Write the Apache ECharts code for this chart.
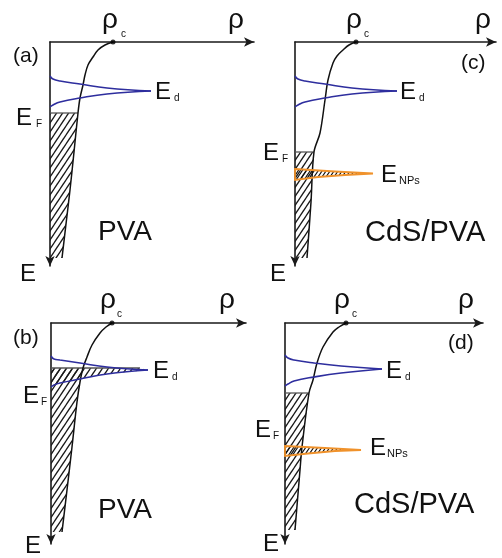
<!DOCTYPE html>
<html><head><meta charset="utf-8">
<script src="https://cdn.jsdelivr.net/npm/echarts@6/dist/echarts.min.js"></script>
<style>html,body{margin:0;padding:0;background:#fff}#c{width:502px;height:558px}</style>
</head><body><div id="c"></div>
<script>
// ---- data (offsets from each panel's axis origin: rho to the right, E downward) ----
// Panel (a) PVA
const aRhoC = 63;
const aCurve = [[63,0],[55,3],[48,8],[43,15],[38,23],[35,33],[33,43],[30,56],[28,71],[24,110],[20,148],[16,182],[12,216]];
const aEdUpper = [[0,34],[3,37],[10,39],[30,42],[57,46],[101,49]];
const aEdLower = [[101,49],[57,52],[30,56],[10,60],[3,63],[0,65]];
const aEF = 71;
// Panel (c) CdS/PVA
const cRhoC = 61;
const cCurve = [[61,0],[54,3],[48,8],[42,14],[38,21],[33,38],[30,58],[25,91],[19,110],[16,160],[12,216]];
const cEdUpper = [[0,34],[3,37],[10,39],[30,42],[57,46],[102,49]];
const cEdLower = [[102,49],[57,52],[30,56],[10,60],[3,63],[0,65]];
const cEF = 110;
const cNpsUpper = [[0,127],[40,129.5],[78,131.5]];
const cNpsLower = [[78,131.5],[50,133],[23,135],[0,138]];
// Panel (b) PVA
const bRhoC = 61;
const bCurve = [[61,0],[55,4],[49,10],[41,22],[36,34],[32,45],[29,59],[26,79],[21,124],[16,167],[11,209]];
const bEdUpper = [[0,33],[3,36],[9,37],[29,40],[56,44],[97,47]];
const bEdLower = [[97,47],[56,51],[29,56],[9,60],[3,62],[0,64]];
const bEF = 45;
const bEFEnd = 89;
// Panel (d) CdS/PVA
const dRhoC = 61;
const dCurve = [[61,0],[54,4],[48,9],[38,24],[32,40],[28,57],[24,70],[17,124],[15,147],[10,207]];
const dEdUpper = [[0,32],[3,35],[9,37],[29,40],[56,43],[97,46]];
const dEdLower = [[97,46],[56,50],[29,54],[9,58],[3,61],[0,63]];
const dEF = 70;
const dNpsUpper = [[0,123],[40,125],[76,127]];
const dNpsLower = [[76,127],[50,128],[23,130.5],[0,133]];

// text labels: [text, left x, centre y, font size]
const labels = [
 ['ρ',102,20,28],['c',121,34,10],['ρ',228,20,28],['(a)',13,56,21],['E',155,92,24],['d',174,98,10],['E',16,118,24],['F',36,124,10],['E',20,274,24],['PVA',98,232,28],
 ['ρ',346,20,28],['c',364,34,10],['ρ',475,20,28],['(c)',461,63,21],['E',400,92,24],['d',419,98,10],['E',263,153,24],['F',282,159,10],['E',381,175,24],['NPs',399,181,11],['E',270,274,24],['CdS/PVA',365,233,29],
 ['ρ',100,300,28],['c',117,314,10],['ρ',219,300,28],['(b)',13,338,21],['E',153,371,24],['d',172,377,10],['E',23,396,24],['F',41,402,10],['E',25,546,24],['PVA',98,510,28],
 ['ρ',334,300,28],['c',352,314,10],['ρ',458,300,28],['(d)',448,343,21],['E',386,371,24],['d',405,377,10],['E',255,430,24],['F',273,436,10],['E',370,448,24],['NPs',387,454,11],['E',263,544,24],['CdS/PVA',354,505,29]
];

const panels = [
  {curve:aCurve, rhoC:aRhoC, edU:aEdUpper, edL:aEdLower, ef:aEF},
  {curve:cCurve, rhoC:cRhoC, edU:cEdUpper, edL:cEdLower, ef:cEF, npsU:cNpsUpper, npsL:cNpsLower},
  {curve:bCurve, rhoC:bRhoC, edU:bEdUpper, edL:bEdLower, ef:bEF, efEnd:bEFEnd, fillBand:true},
  {curve:dCurve, rhoC:dRhoC, edU:dEdUpper, edL:dEdLower, ef:dEF, npsU:dNpsUpper, npsL:dNpsLower}
];

// ---- layout ----
const grids = [
  {left:50, top:42, width:204, height:224},
  {left:295, top:42, width:201, height:224},
  {left:51, top:323, width:195, height:221},
  {left:285, top:323, width:198, height:221}
];

function makeHatch(w, h, lw, color){
  const c = document.createElement('canvas'); c.width = w; c.height = h;
  const g = c.getContext('2d'); g.strokeStyle = color; g.lineWidth = lw; g.lineCap='square';
  g.beginPath();
  g.moveTo(0,h); g.lineTo(w,0);
  g.moveTo(-w,h); g.lineTo(0,0);
  g.moveTo(w,h); g.lineTo(2*w,0);
  g.moveTo(-w/2,h*1.5); g.lineTo(w*0.5,h*0.5);
  g.stroke();
  return c;
}
const hatch = {image: makeHatch(6, 9, 1.3, '#1a1a1a'), repeat:'repeat'};
const hatchDense = {image: makeHatch(4, 6, 1.2, '#111'), repeat:'repeat'};

function axisLine(sym){ return {show:true, onZero:false, symbol:sym, symbolSize:[7,10], lineStyle:{color:'#1a1a1a', width:1.6}}; }
const xAxes = grids.map((g,i)=>({gridIndex:i, type:'value', position:'top', min:0, max:g.width,
  axisLine:axisLine(['none','arrow']), axisTick:{show:false}, axisLabel:{show:false}, splitLine:{show:false}}));
const yAxes = grids.map((g,i)=>({gridIndex:i, type:'value', position:'left', inverse:true, min:0, max:g.height,
  axisLine:axisLine(['arrow','none']), axisTick:{show:false}, axisLabel:{show:false}, splitLine:{show:false}}));

function polygon(i, pts, style, z){
  return {type:'custom', xAxisIndex:i, yAxisIndex:i, data:pts, z:z, silent:true, clip:false,
    renderItem:function(params, api){
      if (params.dataIndex !== 0) return null;
      return {type:'polygon', shape:{points: pts.map(p=>api.coord(p))}, style: style};
    }};
}
function line(i, pts, color, width, smooth, z){
  return {type:'line', xAxisIndex:i, yAxisIndex:i, data:pts, smooth:smooth, symbol:'none', clip:false,
    lineStyle:{color:color, width:width}, z:z, silent:true};
}

const series = [];
panels.forEach((p,i)=>{
  const efPoint = p.curve.find(q=>q[1]===p.ef);
  const below = p.curve.filter(q=>q[1]>=p.ef);
  const bottom = p.curve[p.curve.length-1][1];
  series.push(polygon(i, [[0,p.ef]].concat(below).concat([[0,bottom]]), {fill:hatch}, 1));
  if (p.fillBand) {
    series.push(polygon(i, [[0,p.ef],[p.efEnd,p.ef]].concat(p.edL), {fill:hatch}, 1));
  }
  series.push(line(i, [[0,p.ef],[p.efEnd!==undefined ? p.efEnd : efPoint[0], p.ef]], '#555', 1.3, false, 2));
  series.push(line(i, p.curve, '#111', 1.5, 0.35, 3));
  series.push(line(i, p.edU, '#2e2e9e', 1.6, 0.45, 3));
  series.push(line(i, p.edL, '#2e2e9e', 1.6, 0.45, 3));
  if (p.npsU) {
    series.push(polygon(i, p.npsU.concat(p.npsL.slice(1)), {fill:hatchDense, stroke:'#f0922b', lineWidth:1.8}, 4));
  }
  series.push({type:'scatter', xAxisIndex:i, yAxisIndex:i, data:[[p.rhoC,0]], symbolSize:5, clip:false,
    itemStyle:{color:'#000'}, z:5, silent:true});
});

const graphic = labels.map(l=>({type:'text', silent:true, z:10,
  style:{text:l[0], x:l[1], y:l[2], fill:'#111', fontSize:l[3], fontFamily:'"Liberation Sans", Arial, sans-serif',
    align:'left', verticalAlign:'middle'}}));

const chart = echarts.init(document.getElementById('c'), null, {renderer:'canvas'});
chart.setOption({
  backgroundColor:'#fff', animation:false,
  grid: grids, xAxis: xAxes, yAxis: yAxes, series: series, graphic: graphic
});
</script></body></html>
